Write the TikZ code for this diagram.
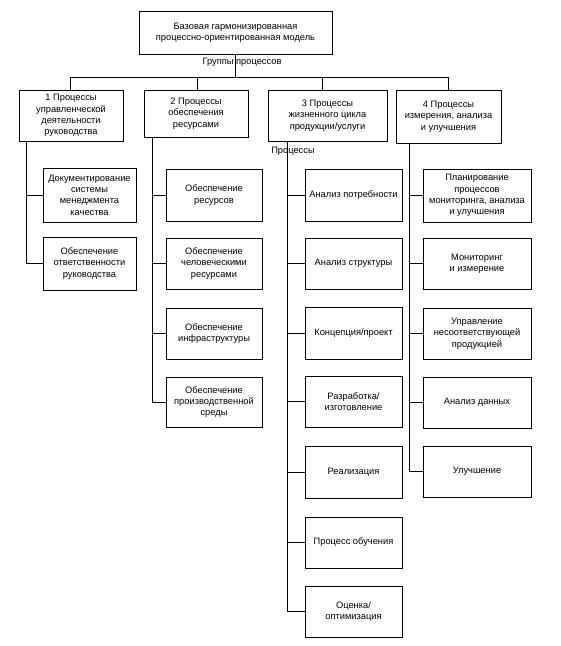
\documentclass[tikz,border=0pt]{standalone}
\usepackage{fontspec}
\setmainfont{Liberation Sans}
\begin{document}
\begin{tikzpicture}[x=1pt,y=-1pt,
  box/.style={draw,line width=0.6pt,align=center,inner sep=1pt,font=\fontsize{9.3}{11.4}\selectfont},
  lbl/.style={inner sep=0.5pt,font=\fontsize{9.3}{11.4}\selectfont},
  ln/.style={line width=0.6pt}]
\useasboundingbox (0,0) rectangle (561,646);
% top
\node[box,minimum width=193pt,minimum height=43pt] (top) at (235.5,32.5) {Базовая гармонизированная\\процессно-ориентированная модель};
% groups
\node[box,minimum width=104pt,minimum height=51pt] (g1) at (71,115.5) {1 Процессы\\управленческой\\деятельности\\руководства};
\node[box,minimum width=104pt,minimum height=47pt] (g2) at (196,113.5) {2 Процессы\\обеспечения\\ресурсами};
\node[box,minimum width=119pt,minimum height=51pt] (g3) at (327.5,115.5) {3 Процессы\\жизненного цикла\\продукции/услуги};
\node[box,line width=1pt,minimum width=105pt,minimum height=53pt] (g4) at (448.5,116.5) {4 Процессы\\измерения, анализа\\и улучшения};
% bus
\coordinate (bus) at (235.5,77);
\coordinate (bl) at (70,77);
\coordinate (br) at (448.5,77);
\draw[ln] (top.south) -- (bus);
\draw[ln] (bl) -- (br);
\draw[ln] (bl) -- (bl |- g1.north);
\draw[ln] (197,77) -- (197,90);
\draw[ln] (322,77) -- (322,90);
\draw[ln] (br) -- (g4.north);
\node[lbl] (grp) at (242,62) {Группы процессов};
% column 1
\node[box,minimum width=93pt,minimum height=54pt] (a1) at (89.5,195) {Документирование\\системы\\менеджмента\\качества};
\node[box,minimum width=93pt,minimum height=53pt] (a2) at (89.5,263.5) {Обеспечение\\ответственности\\руководства};
\coordinate (c1) at (26,141);
\draw[ln] (c1) |- (a2.west);
\draw[ln] (a1.west) -- (a1.west -| c1);
% column 2
\node[box,minimum width=96pt,minimum height=52pt] (b1) at (214,195) {Обеспечение\\ресурсов};
\node[box,minimum width=96pt,minimum height=51pt] (b2) at (214,263.5) {Обеспечение\\человеческими\\ресурсами};
\node[box,minimum width=96pt,minimum height=51pt] (b3) at (214,333.5) {Обеспечение\\инфраструктуры};
\node[box,minimum width=96pt,minimum height=50pt] (b4) at (214,402) {Обеспечение\\производственной\\среды};
\coordinate (c2) at (152,137);
\draw[ln] (c2) |- (b4.west);
\foreach \n in {b1,b2,b3} \draw[ln] (\n.west) -- (\n.west -| c2);
% column 3
\node[box,minimum width=97pt,minimum height=52pt] (d1) at (353.5,195) {Анализ потребности};
\node[box,minimum width=97pt,minimum height=51pt] (d2) at (353.5,263.5) {Анализ структуры};
\node[box,minimum width=97pt,minimum height=52pt] (d3) at (353.5,333) {Концепция/проект};
\node[box,minimum width=97pt,minimum height=51pt] (d4) at (353.5,401.5) {Разработка/\\изготовление};
\node[box,minimum width=97pt,minimum height=52pt] (d5) at (353.5,472) {Реализация};
\node[box,minimum width=97pt,minimum height=51pt] (d6) at (353.5,542.5) {Процесс обучения};
\node[box,minimum width=97pt,minimum height=51pt] (d7) at (353.5,611.5) {Оценка/\\оптимизация};
\coordinate (c3) at (287,141);
\draw[ln] (c3) |- (d7.west);
\foreach \n in {d1,d2,d3,d4,d5,d6} \draw[ln] (\n.west) -- (\n.west -| c3);
\node[lbl] (proc) at (293,151) {Процессы};
% column 4
\node[box,minimum width=108pt,minimum height=53pt] (e1) at (477,195.5) {Планирование\\процессов\\мониторинга, анализа\\и улучшения};
\node[box,minimum width=108pt,minimum height=51pt] (e2) at (477,263.5) {Мониторинг\\и измерение};
\node[box,minimum width=108pt,minimum height=51pt] (e3) at (477,333.5) {Управление\\несоответствующей\\продукцией};
\node[box,minimum width=108pt,minimum height=51pt] (e4) at (477,402.5) {Анализ данных};
\node[box,minimum width=108pt,minimum height=51pt] (e5) at (477,471.5) {Улучшение};
\coordinate (c4) at (409,143);
\draw[ln] (c4) |- (e5.west);
\foreach \n in {e1,e2,e3,e4} \draw[ln] (\n.west) -- (\n.west -| c4);
\end{tikzpicture}
\end{document}
